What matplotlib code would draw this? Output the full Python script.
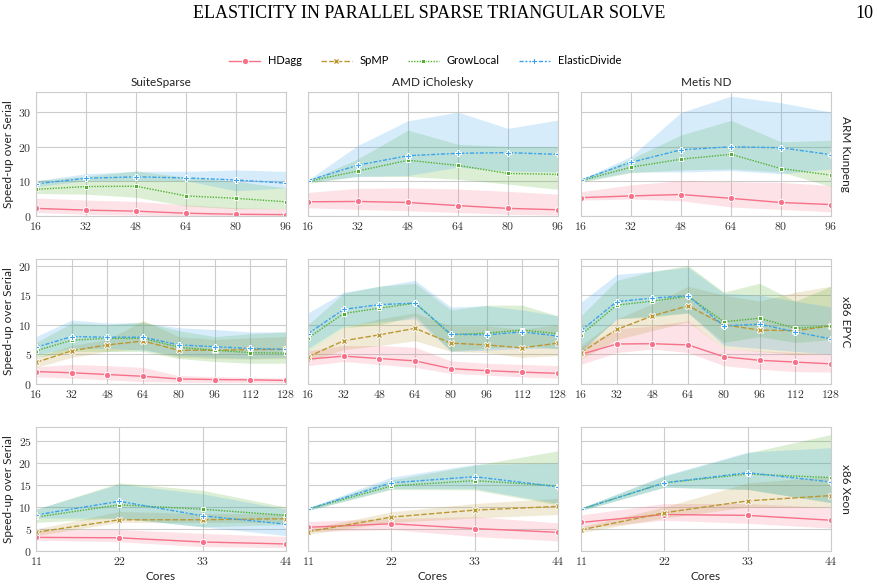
import matplotlib
matplotlib.use("Agg")
import matplotlib.pyplot as plt
from matplotlib.ticker import FuncFormatter, FixedLocator
from matplotlib.lines import Line2D

# ---------------- data ----------------
methods = ["HDagg", "SpMP", "GrowLocal", "ElasticDivide"]
colors = ["#f77189", "#bb9832", "#50b131", "#3ba3ec"]
machines = ["ARM Kunpeng", "x86 EPYC", "x86 Xeon"]
orderings = ["SuiteSparse", "AMD iCholesky", "Metis ND"]

cores_arm = [16, 32, 48, 64, 80, 96]
cores_epyc = [16, 32, 48, 64, 80, 96, 112, 128]
cores_xeon = [11, 22, 33, 44]
yticks_arm = [0, 10, 20, 30]
yticks_epyc = [0, 5, 10, 15, 20]
yticks_xeon = [0, 5, 10, 15, 20, 25]
ylim_top = [35.8, 21.1, 28.2]

# panels ordered: ARM(SS, AMD, ND), EPYC(SS, AMD, ND), Xeon(SS, AMD, ND)
hdagg_mean = [
    [2.2, 1.7, 1.4, 0.8, 0.5, 0.4],
    [4.1, 4.2, 3.9, 3.0, 2.2, 1.8],
    [5.3, 5.8, 6.2, 5.1, 3.9, 3.3],
    [2.1, 1.9, 1.6, 1.3, 0.85, 0.75, 0.7, 0.6],
    [4.2, 4.7, 4.3, 3.9, 2.6, 2.25, 2.0, 1.8],
    [5.0, 6.75, 6.8, 6.6, 4.6, 4.0, 3.7, 3.4],
    [3.1, 3.0, 2.05, 1.6],
    [5.4, 6.2, 5.1, 4.25],
    [6.5, 8.3, 8.1, 7.0],
]
hdagg_lo = [
    [1.0, 0.5, 0.3, 0.1, 0.0, 0.0],
    [2.4, 1.9, 1.5, 1.0, 0.5, 0.3],
    [4.6, 4.9, 4.4, 2.6, 1.9, 1.2],
    [1.2, 1.0, 0.7, 0.4, 0.3, 0.25, 0.25, 0.2],
    [3.1, 3.8, 3.3, 2.8, 1.8, 1.5, 1.2, 1.0],
    [3.3, 5.3, 5.9, 5.3, 3.1, 2.5, 2.1, 2.0],
    [2.5, 2.1, 1.0, 0.75],
    [4.4, 4.9, 3.3, 2.3],
    [5.2, 7.0, 6.3, 5.2],
]
hdagg_hi = [
    [5.2, 4.6, 4.2, 3.2, 2.4, 2.1],
    [6.8, 8.0, 8.1, 7.8, 7.1, 6.3],
    [7.0, 9.0, 10.2, 9.9, 9.7, 8.8],
    [2.9, 3.3, 3.1, 2.8, 1.4, 1.25, 1.1, 1.0],
    [5.6, 6.5, 6.5, 6.2, 3.9, 3.5, 3.3, 3.1],
    [6.2, 9.3, 9.8, 10.7, 6.0, 5.6, 5.3, 5.1],
    [4.8, 4.9, 4.0, 3.3],
    [6.7, 7.4, 7.8, 6.4],
    [8.2, 10.8, 10.8, 9.9],
]
spmp_mean = [
    None, None, None,
    [3.65, 5.6, 6.6, 7.25, 5.7, 5.7, 5.8, 5.85],
    [4.6, 7.3, 8.3, 9.4, 6.9, 6.6, 6.1, 6.9],
    [5.3, 9.2, 11.5, 13.2, 10.0, 9.1, 9.0, 9.8],
    [4.25, 7.1, 7.1, 7.35],
    [4.4, 7.7, 9.3, 10.15],
    [4.8, 8.7, 11.4, 12.6],
]
spmp_lo = [
    None, None, None,
    [2.8, 4.5, 5.5, 5.9, 4.5, 4.3, 4.2, 4.3],
    [3.8, 5.8, 6.5, 7.3, 5.5, 5.3, 4.5, 4.8],
    [4.2, 7.5, 9.0, 10.5, 6.0, 5.5, 5.0, 5.2],
    [3.5, 6.5, 6.5, 6.5],
    [3.8, 6.5, 7.5, 8.3],
    [4.2, 7.5, 10.0, 10.0],
]
spmp_hi = [
    None, None, None,
    [4.5, 6.5, 7.5, 10.7, 8.0, 7.5, 7.8, 8.0],
    [5.5, 9.5, 11.0, 12.0, 9.8, 9.8, 9.3, 10.0],
    [6.5, 11.0, 13.5, 16.5, 15.0, 14.0, 15.5, 16.5],
    [5.0, 9.0, 8.5, 8.5],
    [5.0, 8.9, 10.8, 12.0],
    [5.5, 10.0, 15.5, 17.0],
]
grow_mean = [
    [7.7, 8.5, 8.6, 5.8, 5.1, 4.1],
    [10.0, 13.0, 16.1, 14.6, 12.3, 12.0],
    [10.2, 14.1, 16.4, 17.8, 13.7, 11.8],
    [5.6, 7.4, 7.7, 7.7, 6.2, 5.7, 5.3, 5.2],
    [7.75, 11.9, 12.8, 13.65, 8.3, 8.6, 9.1, 8.5],
    [8.3, 13.3, 14.0, 14.8, 10.5, 11.1, 9.4, 9.8],
    [7.7, 10.5, 9.5, 8.1],
    [9.5, 14.8, 16.0, 14.8],
    [9.5, 15.5, 17.5, 16.7],
]
grow_lo = [
    [6.5, 6.3, 5.4, 2.9, 2.1, 2.1],
    [9.4, 11.5, 11.4, 10.6, 9.2, 7.7],
    [9.8, 12.5, 13.3, 13.6, 12.7, 8.5],
    [4.5, 5.5, 5.5, 5.5, 4.3, 3.8, 3.5, 3.5],
    [5.5, 9.5, 10.0, 11.5, 5.6, 6.0, 6.5, 6.0],
    [5.5, 11.0, 11.3, 12.0, 7.0, 8.0, 7.0, 7.5],
    [6.5, 7.5, 5.5, 6.0],
    [9.2, 14.0, 13.9, 10.5],
    [9.2, 14.5, 14.0, 11.0],
]
grow_hi = [
    [10.2, 11.5, 13.0, 11.2, 10.0, 8.1],
    [10.2, 16.5, 24.8, 20.7, 20.1, 20.0],
    [10.4, 16.5, 23.4, 27.6, 21.4, 21.9],
    [7.0, 10.3, 10.0, 10.5, 9.0, 8.0, 8.5, 8.8],
    [10.0, 15.3, 16.5, 17.0, 12.5, 13.3, 13.3, 11.5],
    [11.5, 17.5, 19.0, 20.0, 15.5, 17.0, 14.0, 16.5],
    [9.5, 15.5, 13.8, 10.0],
    [9.8, 16.2, 19.5, 22.8],
    [9.8, 17.0, 22.3, 26.5],
]
ed_mean = [
    [9.3, 10.9, 11.3, 11.0, 10.4, 9.5],
    [10.2, 14.7, 17.4, 18.1, 18.3, 17.8],
    [10.4, 15.5, 19.1, 20.0, 19.7, 17.7],
    [6.2, 8.0, 7.9, 7.9, 6.6, 6.3, 6.0, 5.85],
    [8.5, 12.6, 13.4, 13.65, 8.4, 8.3, 8.8, 8.1],
    [9.0, 13.9, 14.5, 14.9, 9.8, 10.1, 8.8, 7.6],
    [8.2, 11.3, 8.0, 6.1],
    [9.5, 15.5, 16.9, 14.6],
    [9.5, 15.5, 17.8, 15.7],
]
ed_lo = [
    [8.5, 10.2, 10.2, 10.2, 7.3, 8.1],
    [9.8, 11.4, 11.7, 14.1, 13.0, 12.7],
    [10.0, 12.7, 12.7, 13.1, 12.2, 13.6],
    [5.0, 6.0, 6.0, 5.7, 4.8, 4.5, 4.3, 4.5],
    [6.0, 9.8, 10.5, 11.0, 5.5, 5.7, 6.0, 6.0],
    [5.5, 11.0, 11.5, 12.0, 6.5, 6.0, 5.5, 5.0],
    [7.5, 7.5, 5.5, 3.5],
    [9.2, 14.2, 14.2, 10.8],
    [9.2, 14.5, 14.0, 11.0],
]
ed_hi = [
    [10.2, 12.2, 12.9, 12.9, 13.3, 12.9],
    [10.4, 20.4, 27.5, 30.0, 25.3, 27.7],
    [10.6, 17.2, 29.9, 34.6, 32.7, 30.0],
    [8.0, 10.8, 10.3, 10.3, 9.5, 9.2, 8.8, 8.8],
    [12.0, 15.5, 16.5, 17.5, 13.0, 13.2, 12.5, 11.5],
    [13.8, 18.5, 19.0, 19.7, 15.3, 15.0, 14.0, 13.0],
    [9.5, 15.2, 13.0, 9.5],
    [9.8, 16.8, 19.7, 20.0],
    [9.8, 17.2, 22.5, 23.5],
]

# ---------------- style ----------------
plt.rcParams["mathtext.fontset"] = "cm"
SANS = ["Lato", "DejaVu Sans"]
SERIF = ["Liberation Serif", "DejaVu Serif"]
markers = ["o", "X", (4, 0, 45), "P"]
dashes = [(None, None), (4, 1.5), (1, 1), (3, 1.25, 1.5, 1.25)]
series = [
    (hdagg_mean, hdagg_lo, hdagg_hi),
    (spmp_mean, spmp_lo, spmp_hi),
    (grow_mean, grow_lo, grow_hi),
    (ed_mean, ed_lo, ed_hi),
]
cores_rows = [cores_arm, cores_epyc, cores_xeon]
yticks_rows = [yticks_arm, yticks_epyc, yticks_xeon]

W, H = 878, 585
fig = plt.figure(figsize=(W / 100, H / 100), dpi=100)

lefts = [36, 308, 581]
width = 250
tops = [92, 259, 427]
bottoms = [216, 384, 551]

fmt = FuncFormatter(lambda v, p: r"$%d$" % int(round(v)))

for r in range(3):
    for c in range(3):
        ax = fig.add_axes([lefts[c] / W, 1 - bottoms[r] / H, width / W,
                           (bottoms[r] - tops[r]) / H])
        idx = r * 3 + c
        xs = cores_rows[r]
        for m in range(4):
            mean, lo, hi = series[m]
            if mean[idx] is None:
                continue
            ax.fill_between(xs, lo[idx], hi[idx], color=colors[m], alpha=0.2,
                            linewidth=0)
            ln, = ax.plot(xs, mean[idx], color=colors[m], lw=1.0,
                          marker=markers[m], markersize=4.5,
                          markeredgecolor="white", markeredgewidth=0.7)
            if m > 0:
                ln.set_dashes(dashes[m])
        ax.set_xlim(xs[0], xs[-1])
        ax.set_ylim(0, ylim_top[r])
        ax.xaxis.set_major_locator(FixedLocator(xs))
        ax.yaxis.set_major_locator(FixedLocator(yticks_rows[r]))
        ax.xaxis.set_major_formatter(fmt)
        ax.yaxis.set_major_formatter(fmt)
        ax.grid(True, color="#cccccc", lw=0.8)
        ax.set_axisbelow(True)
        for s in ax.spines.values():
            s.set_color("#cccccc")
            s.set_linewidth(0.8)
        ax.tick_params(length=0, pad=3, labelsize=8.5, colors="#333333")
        if c != 0:
            ax.set_yticklabels([])
        else:
            ax.set_ylabel("Speed-up over Serial", family=SANS, fontsize=8.5,
                          color="#222222", labelpad=3)
        if r == 2:
            ax.set_xlabel("Cores", family=SANS, fontsize=8.5, color="#222222",
                          labelpad=2)
        if r == 0:
            ax.set_title(orderings[c], family=SANS, fontsize=8.5,
                         color="#222222", pad=4)
        if c == 2:
            ax.text(1.06, 0.5, machines[r], transform=ax.transAxes,
                    rotation=270, ha="center", va="center", family=SANS,
                    fontsize=8.5, color="#222222")

# legend
handles = []
for m in range(4):
    h = Line2D([], [], color=colors[m], lw=1.0, marker=markers[m],
               markersize=4.5, markeredgecolor="white", markeredgewidth=0.7)
    if m > 0:
        h.set_dashes(dashes[m])
    handles.append(h)
fig.legend(handles, methods, loc="center", bbox_to_anchor=(425 / W, 1 - 61 / H),
           ncol=4, frameon=False, prop={"family": SANS, "size": 8},
           handlelength=2.8, columnspacing=1.7, handletextpad=0.7)

fig.text(429 / W, 1 - 13 / H, "ELASTICITY IN PARALLEL SPARSE TRIANGULAR SOLVE",
         ha="center", va="center", family=SERIF, fontsize=13)
fig.text(864 / W, 1 - 13 / H, "10", ha="center", va="center",
         family=SERIF, fontsize=13)

fig.savefig("out.png", dpi=100)
